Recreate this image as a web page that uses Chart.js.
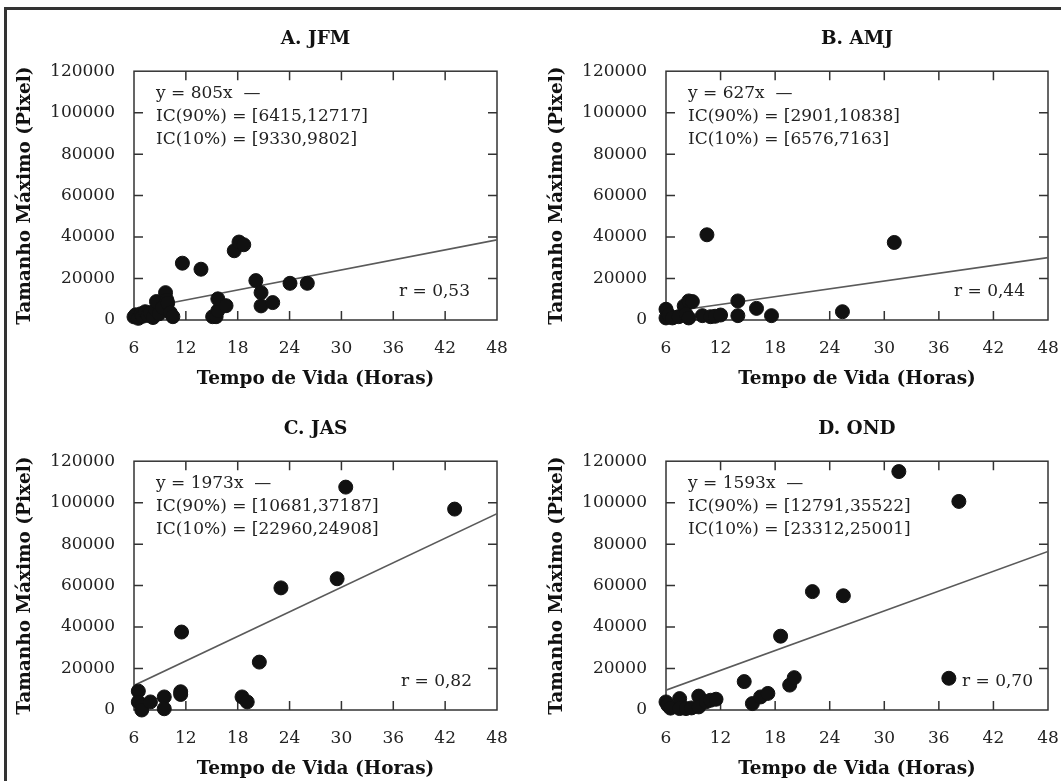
<!DOCTYPE html>
<html>
<head>
<meta charset="utf-8">
<title>Tamanho Máximo x Tempo de Vida</title>
<script src="https://cdn.jsdelivr.net/npm/chart.js"></script>
<style>
  body { margin: 0; background: #fff; }
  #frame { position: absolute; left: 4px; top: 7px; width: 1100px; height: 800px;
           border-left: 3px solid #333; border-top: 3px solid #333; }
  .panel { position: absolute; width: 530px; height: 390px; }
</style>
</head>
<body>
<div id="frame"></div>
<div class="panel" style="left:0;top:0;width:531px"><canvas id="chartA"></canvas></div>
<div class="panel" style="left:531px;top:0"><canvas id="chartB"></canvas></div>
<div class="panel" style="left:0;top:390px;width:531px"><canvas id="chartC"></canvas></div>
<div class="panel" style="left:531px;top:390px"><canvas id="chartD"></canvas></div>

<script>
  // points [horas, pixel]
  var jfmPoints = [[6.0,1500],[6.2,2500],[6.5,800],[6.8,3000],[7.0,1800],[7.3,4000],[7.6,2200],[7.9,3500],
    [8.2,1200],[8.5,5000],[8.6,8900],[8.9,3000],[9.3,6000],[9.65,13200],[9.8,9700],[9.9,8200],[10.2,3500],
    [10.5,1600],[11.6,27400],[13.75,24500],[15.1,1600],[15.5,1600],[15.7,4500],[15.7,10200],[16.65,6900],
    [17.6,33400],[18.15,37600],[18.7,36300],[20.1,19000],[20.7,13200],[20.7,6800],[22.05,8400],[24.05,17700],[26.05,17700]];
  var amjPoints = [[6.0,5200],[6.0,1000],[6.3,2500],[6.7,1000],[7.4,1600],[8.0,6800],[8.2,2800],[8.5,9200],
    [8.5,1000],[8.9,8900],[10.0,2100],[10.5,41100],[10.9,1600],[11.4,1800],[12.0,2400],[13.9,9200],[13.9,2100],
    [15.95,5600],[17.6,2100],[25.4,4000],[31.1,37400]];
  var jasPoints = [[6.5,9100],[6.5,3900],[7.0,2300],[6.9,0],[7.9,3900],[9.5,6300],[9.5,600],[11.4,8800],[11.4,7500],
    [11.5,37600],[18.5,6300],[19.1,3900],[20.5,23100],[23.0,58900],[29.5,63300],[30.5,107500],[43.1,96900]];
  var ondPoints = [[6.0,3900],[6.2,2300],[6.5,900],[7.5,5500],[7.5,700],[8.2,700],[8.8,1000],[9.6,6700],[9.6,1500],
    [10.4,3900],[10.9,4700],[11.5,5200],[14.6,13700],[15.5,3100],[16.4,6300],[17.2,8000],[18.6,35600],[19.6,12000],
    [20.1,15600],[22.1,57100],[25.5,55100],[31.6,115000],[37.1,15300],[38.2,100600]];

  var panelTitles = ['A. JFM', 'B. AMJ', 'C. JAS', 'D. OND'];
  var fitSlopes = [805, 627, 1973, 1593];
  var fitLabels = ['y = 805x', 'y = 627x', 'y = 1973x', 'y = 1593x'];
  var ci90 = ['IC(90%) = [6415,12717]', 'IC(90%) = [2901,10838]', 'IC(90%) = [10681,37187]', 'IC(90%) = [12791,35522]'];
  var ci10 = ['IC(10%) = [9330,9802]', 'IC(10%) = [6576,7163]', 'IC(10%) = [22960,24908]', 'IC(10%) = [23312,25001]'];
  var rValues = ['r = 0,53', 'r = 0,44', 'r = 0,82', 'r = 0,70'];
  var xMin = 6, xMax = 48, xStep = 6;
  var yMin = 0, yMax = 120000, yStep = 20000;
  var xTitle = 'Tempo de Vida (Horas)';
  var yTitle = 'Tamanho Máximo (Pixel)';

  var serif = '"DejaVu Serif", serif';

  // frame, inward ticks and the text notes inside each panel
  var panelDecor = {
    id: 'panelDecor',
    beforeDatasetsDraw: function(chart, args, opts) {
      var ctx = chart.ctx, a = chart.chartArea, x = chart.scales.x, y = chart.scales.y;
      ctx.save();
      ctx.strokeStyle = '#333';
      ctx.lineWidth = 1.5;
      ctx.strokeRect(a.left, a.top, a.right - a.left, a.bottom - a.top);
      ctx.beginPath();
      x.ticks.forEach(function(t) {
        if (t.value <= x.min || t.value >= x.max) return;
        var px = x.getPixelForValue(t.value);
        ctx.moveTo(px, a.bottom); ctx.lineTo(px, a.bottom - 9);
        ctx.moveTo(px, a.top); ctx.lineTo(px, a.top + 9);
      });
      y.ticks.forEach(function(t) {
        if (t.value <= y.min || t.value >= y.max) return;
        var py = y.getPixelForValue(t.value);
        ctx.moveTo(a.left, py); ctx.lineTo(a.left + 9, py);
        ctx.moveTo(a.right, py); ctx.lineTo(a.right - 9, py);
      });
      ctx.stroke();

      ctx.fillStyle = '#222';
      ctx.font = '17px ' + serif;
      ctx.textBaseline = 'middle';
      ctx.textAlign = 'left';
      ctx.fillText(opts.fit + '  \u2014', a.left + 22, a.top + 22);
      ctx.fillText(opts.ci90, a.left + 22, a.top + 45);
      ctx.fillText(opts.ci10, a.left + 22, a.top + 68);
      ctx.textAlign = 'right';
      ctx.fillText(opts.r, a.right - opts.rOffset, a.bottom - 28);
      ctx.restore();
    }
  };

  function makePanel(id, i, points, padLeft, padRight, rOffset) {
    var slope = fitSlopes[i];
    return new Chart(document.getElementById(id).getContext('2d'), {
      type: 'scatter',
      data: {
        datasets: [
          {
            data: points.map(function(p) { return { x: p[0], y: p[1] }; }),
            backgroundColor: '#111', borderColor: '#111',
            pointRadius: 7, pointHoverRadius: 7, clip: false, order: 1
          },
          {
            type: 'line',
            data: [{ x: xMin, y: slope * xMin }, { x: xMax, y: slope * xMax }],
            borderColor: '#5a5a5a', borderWidth: 1.6, pointRadius: 0, order: 2
          }
        ]
      },
      options: {
        responsive: true,
        maintainAspectRatio: false,
        animation: false,
        layout: { padding: { left: padLeft, right: padRight, top: 0, bottom: 0 } },
        plugins: {
          legend: { display: false },
          tooltip: { enabled: false },
          title: {
            display: true, text: panelTitles[i], fullSize: false,
            color: '#111', font: { family: serif, size: 18.5, weight: 'bold' },
            padding: { top: 28, bottom: 21 }
          },
          panelDecor: { fit: fitLabels[i], ci90: ci90[i], ci10: ci10[i], r: rValues[i], rOffset: rOffset }
        },
        scales: {
          x: {
            type: 'linear', min: xMin, max: xMax,
            grid: { display: false }, border: { display: false },
            ticks: { stepSize: xStep, padding: 10, color: '#222', font: { family: serif, size: 17 } },
            title: { display: true, text: xTitle, color: '#111', padding: { top: 0, bottom: 0 },
                     font: { family: serif, size: 18.5, weight: 'bold' } },
            afterFit: function(s) { s.height = 70; s.paddingLeft = 0; s.paddingRight = 0; }
          },
          y: {
            min: yMin, max: yMax,
            grid: { display: false }, border: { display: false },
            ticks: { stepSize: yStep, padding: 11, color: '#222', font: { family: serif, size: 17 },
                     callback: function(v) { return String(v); } },
            title: { display: true, text: yTitle, color: '#111', padding: { top: 0, bottom: 0 },
                     font: { family: serif, size: 18.5, weight: 'bold' } },
            afterFit: function(s) { s.width = 120; s.paddingTop = 0; s.paddingBottom = 0; }
          }
        }
      },
      plugins: [panelDecor]
    });
  }

  makePanel('chartA', 0, jfmPoints, 14, 34, 27);
  makePanel('chartB', 1, amjPoints, 15, 13, 23);
  makePanel('chartC', 2, jasPoints, 14, 34, 25);
  makePanel('chartD', 3, ondPoints, 15, 13, 15);
</script>
</body>
</html>
